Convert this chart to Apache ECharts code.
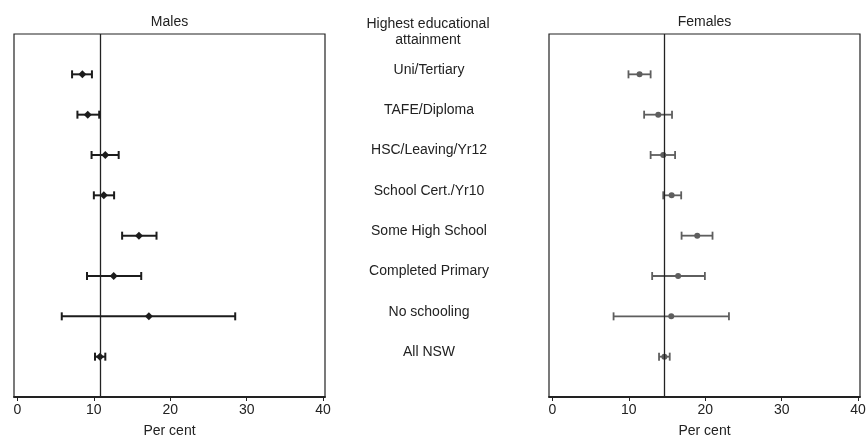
<!DOCTYPE html>
<html>
<head>
<meta charset="utf-8">
<script src="https://cdn.jsdelivr.net/npm/echarts@6/dist/echarts.min.js"></script>
<style>
html,body{margin:0;padding:0;background:#fff;}
#chart{width:867px;height:439px;}
</style>
</head>
<body>
<div id="chart"></div>
<script>
// Categories, top to bottom
const categories = ['Uni/Tertiary','TAFE/Diploma','HSC/Leaving/Yr12','School Cert./Yr10','Some High School','Completed Primary','No schooling','All NSW'];
// Males: estimate, lower CI, upper CI (per cent)
const maleEst = [8.5, 9.2, 11.5, 11.3, 15.9, 12.6, 17.2, 10.8];
const maleLo  = [7.15, 7.85, 9.7, 10.0, 13.7, 9.1, 5.8, 10.15];
const maleHi  = [9.75, 10.7, 13.25, 12.65, 18.2, 16.2, 28.5, 11.5];
const maleRef = 10.8;
// Females
const femEst = [11.4, 13.85, 14.5, 15.6, 18.95, 16.45, 15.55, 14.65];
const femLo  = [9.95, 12.0, 12.85, 14.5, 16.9, 13.05, 8.0, 13.95];
const femHi  = [12.85, 15.65, 16.05, 16.85, 20.95, 19.95, 23.1, 15.35];
const femRef = 14.65;
const xTicks = [0, 10, 20, 30, 40];
const xTitle = 'Per cent';
const panelTitles = ['Males', 'Females'];
const middleTitle = 'Highest educational\nattainment';

const n = categories.length;
const yPos = categories.map((c, i) => n - i);   // 8 at top ... 1 at bottom

const FONT = '"Liberation Sans", Arial, Helvetica, sans-serif';
const TXT = '#222';
const MALE_C = '#1c1c1c';
const FEM_C = '#5e5e5e';

function errData(lo, hi) { return lo.map((v, i) => [v, hi[i], yPos[i]]); }
function ptData(est) { return est.map((v, i) => [v, yPos[i]]); }

function errSeries(idx, lo, hi, color, lw) {
  return {
    type: 'custom', xAxisIndex: idx, yAxisIndex: idx,
    data: errData(lo, hi),
    encode: { x: [0, 1], y: 2 },
    silent: true, z: 3,
    renderItem: function (params, api) {
      const y = api.value(2);
      const a = api.coord([api.value(0), y]);
      const b = api.coord([api.value(1), y]);
      const cap = 4;
      const st = { stroke: color, lineWidth: lw };
      return { type: 'group', children: [
        { type: 'line', shape: { x1: a[0], y1: a[1], x2: b[0], y2: b[1] }, style: st },
        { type: 'line', shape: { x1: a[0], y1: a[1] - cap, x2: a[0], y2: a[1] + cap }, style: st },
        { type: 'line', shape: { x1: b[0], y1: b[1] - cap, x2: b[0], y2: b[1] + cap }, style: st }
      ]};
    }
  };
}

function ptSeries(idx, est, color, symbol, size, ref) {
  return {
    type: 'scatter', xAxisIndex: idx, yAxisIndex: idx,
    data: ptData(est), symbol: symbol, symbolSize: size,
    itemStyle: { color: color, opacity: 1 }, silent: true, z: 4,
    markLine: {
      silent: true, symbol: 'none', animation: false,
      label: { show: false },
      lineStyle: { color: '#222', width: 1.3, type: 'solid' },
      data: [{ xAxis: ref }]
    }
  };
}

function xAx(idx) {
  return {
    type: 'value', gridIndex: idx, min: -0.45, max: 40.25,
    name: xTitle, nameLocation: 'middle', nameGap: 27,
    nameTextStyle: { fontFamily: FONT, fontSize: 14, color: TXT },
    axisLine: { show: true, onZero: false, lineStyle: { color: '#222', width: 1.8 } },
    axisTick: { show: true, customValues: xTicks, length: 4, lineStyle: { color: '#222', width: 1 } },
    axisLabel: { customValues: xTicks, fontFamily: FONT, fontSize: 14, color: TXT, margin: 6 },
    splitLine: { show: false }
  };
}

const chart = echarts.init(document.getElementById('chart'), null, { renderer: 'canvas' });
chart.setOption({
  animation: false,
  backgroundColor: '#fff',
  grid: [
    { left: 14, top: 34, width: 311, height: 363, outerBoundsMode: 'none', containLabel: false, show: true, borderColor: '#222', borderWidth: 1.2, backgroundColor: 'transparent' },
    { left: 549, top: 34, width: 311, height: 363, outerBoundsMode: 'none', containLabel: false, show: true, borderColor: '#222', borderWidth: 1.2, backgroundColor: 'transparent' }
  ],
  xAxis: [xAx(0), xAx(1)],
  yAxis: [
    { type: 'value', gridIndex: 0, min: 0, max: 9, position: 'right',
      axisLine: { show: false }, axisTick: { show: false }, splitLine: { show: false },
      axisLabel: { customValues: yPos.map(v => v + 0.11), margin: 104, align: 'center',
        fontFamily: FONT, fontSize: 14, color: TXT,
        formatter: function (v) { return categories[n - Math.round(v)] || ''; } } },
    { type: 'value', gridIndex: 1, min: 0, max: 9,
      axisLine: { show: false }, axisTick: { show: false }, splitLine: { show: false },
      axisLabel: { show: false } }
  ],
  graphic: [
    { type: 'text', x: 169.5, y: 22, style: { text: panelTitles[0], textAlign: 'center', textVerticalAlign: 'middle', font: '14px ' + FONT, fill: TXT } },
    { type: 'text', x: 704.5, y: 22, style: { text: panelTitles[1], textAlign: 'center', textVerticalAlign: 'middle', font: '14px ' + FONT, fill: TXT } },
    { type: 'text', x: 428, y: 32, style: { text: middleTitle, textAlign: 'center', textVerticalAlign: 'middle', font: '14px ' + FONT, lineHeight: 16, fill: TXT } }
  ],
  series: [
    errSeries(0, maleLo, maleHi, MALE_C, 2),
    ptSeries(0, maleEst, MALE_C, 'diamond', 8, maleRef),
    errSeries(1, femLo, femHi, FEM_C, 1.8),
    ptSeries(1, femEst, FEM_C, 'circle', 6, femRef)
  ]
});
</script>
</body>
</html>
